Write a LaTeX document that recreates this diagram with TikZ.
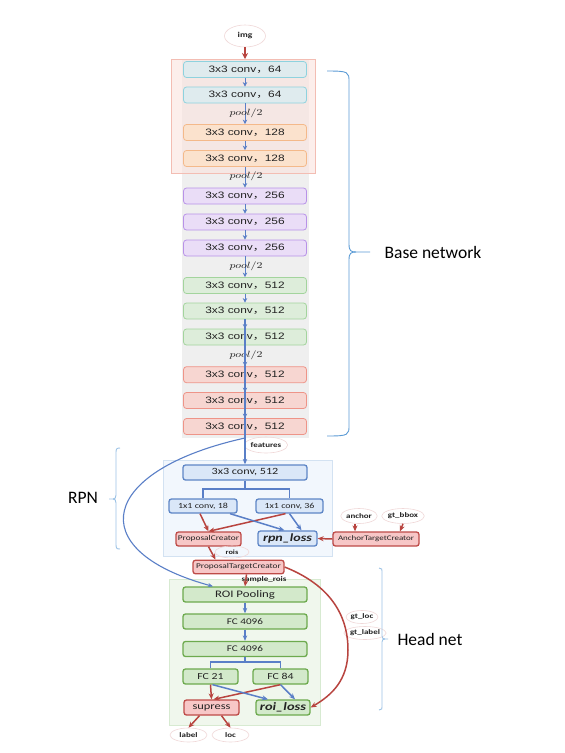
\documentclass[tikz,border=0pt]{standalone}
\usepackage{fontspec}
\usepackage{graphicx}
\setmainfont{Carlito}
\newfontfamily\vf[FakeStretch=1.28]{Liberation Sans}
\newfontfamily\cf[FakeStretch=1.28]{Carlito}
\newfontfamily\cjk[FakeStretch=1.28]{Noto Sans CJK SC}
\usetikzlibrary{shapes.geometric,arrows.meta,calc}
\definecolor{cyF}{HTML}{DFEBEE}\definecolor{cyD}{HTML}{8ED2DE}
\definecolor{orF}{HTML}{FBE2CD}\definecolor{orD}{HTML}{F4B98A}
\definecolor{puF}{HTML}{EADDF7}\definecolor{puD}{HTML}{B892E8}
\definecolor{gnF}{HTML}{DDEDDA}\definecolor{gnD}{HTML}{A3D49D}
\definecolor{rdF}{HTML}{F7D6D1}\definecolor{rdD}{HTML}{EE9488}
\definecolor{grayF}{HTML}{EFEFEF}
\definecolor{pinkF}{HTML}{FAE3DE}\definecolor{pinkD}{HTML}{F3BDB3}
\definecolor{rpnbgF}{HTML}{F2F7FD}\definecolor{rpnbgD}{HTML}{D3E2F2}
\definecolor{bluF}{HTML}{DAE7F8}\definecolor{bluD}{HTML}{5E86C6}
\definecolor{redF}{HTML}{F7C7C7}\definecolor{redD}{HTML}{BE4B48}
\definecolor{grnF}{HTML}{D3E9CB}\definecolor{grnD}{HTML}{6DAA4E}
\definecolor{headF}{HTML}{F0F7ED}\definecolor{headD}{HTML}{D7EAD1}
\definecolor{arrB}{HTML}{5A7FC7}\definecolor{arrR}{HTML}{B8443F}
\definecolor{ellD}{HTML}{F0D8D8}
\definecolor{braceB}{HTML}{5B9BD5}\definecolor{braceL}{HTML}{9DC3E6}
\definecolor{txt}{HTML}{222222}
\tikzset{
 vgg/.style={draw, rounded corners=3pt, minimum width=123pt, minimum height=16pt, inner sep=0pt, line width=0.8pt, text=txt, font=\vf\fontsize{9.3}{10}\selectfont},
 cybox/.style={vgg, fill=cyF, draw=cyD},
 orbox/.style={vgg, fill=orF, draw=orD},
 pubox/.style={vgg, fill=puF, draw=puD},
 gnbox/.style={vgg, fill=gnF, draw=gnD},
 rdbox/.style={vgg, fill=rdF, draw=rdD},
 pooltxt/.style={inner sep=0pt, text=txt, font=\fontsize{9}{10}\selectfont},
 bx/.style={rounded corners=2.5pt, inner sep=0pt, line width=1.3pt, text=txt},
 bluebox/.style={bx, draw=bluD, fill=bluF},
 redbox/.style={bx, draw=redD, fill=redF},
 grnbox/.style={bx, draw=grnD, fill=grnF},
 ell/.style={ellipse, draw=ellD, line width=0.6pt, inner sep=0pt, text=txt, font=\cf\bfseries\fontsize{7}{8}\selectfont},
 varr/.style={draw=arrB, line width=1pt, -{Stealth[length=4.5pt,width=4.5pt]}},
 barr/.style={draw=arrB, line width=1.2pt, -{Stealth[length=5.5pt,width=4.5pt]}},
 barrT/.style={draw=arrB, line width=1.5pt, -{Stealth[length=6pt,width=5pt]}},
 rarr/.style={draw=arrR, line width=1.5pt, -{Stealth[length=6pt,width=5pt]}},
 branch/.style={draw=arrB, line width=1.2pt},
 bigtxt/.style={inner sep=0pt, text=black, font=\fontsize{17.5}{20}\selectfont},
}
\begin{document}
\begin{tikzpicture}[x=1pt,y=-1pt]
\useasboundingbox (0,0) rectangle (565,753);
\fill[white] (0,0) rectangle (565,753);
% backgrounds
\fill[grayF] (181.7,59) rectangle (309,438);
\draw[draw=pinkD, fill=pinkF, fill opacity=0.6, line width=0.8pt] (171,59) rectangle (315,173);
\draw[draw=rpnbgD, fill=rpnbgF, line width=0.8pt] (163,460) rectangle (332,556);
\draw[draw=headD, fill=headF, line width=0.8pt] (169,579) rectangle (320,725);

% VGG
\node[ell, minimum width=41pt, minimum height=22pt, font=\cf\bfseries\fontsize{7.5}{8}\selectfont] (img) at (245,36) {img};
\coordinate (vtop) at (245,59);
\node[cybox] (c1) at (245,69.5) {3x3 conv{\cjk ，}64};
\node[cybox] (c2) at (245,95) {3x3 conv{\cjk ，}64};
\node[orbox] (c3) at (245,132.5) {3x3 conv{\cjk ，}128};
\node[orbox] (c4) at (245,158.5) {3x3 conv{\cjk ，}128};
\node[pubox] (c5) at (245,196) {3x3 conv{\cjk ，}256};
\node[pubox] (c6) at (245,222) {3x3 conv{\cjk ，}256};
\node[pubox] (c7) at (245,248) {3x3 conv{\cjk ，}256};
\node[gnbox] (c8) at (245,285.5) {3x3 conv{\cjk ，}512};
\node[gnbox] (c9) at (245,311) {3x3 conv{\cjk ，}512};
\node[gnbox] (c10) at (245,337) {3x3 conv{\cjk ，}512};
\node[rdbox] (c11) at (245,374.7) {3x3 conv{\cjk ，}512};
\node[rdbox] (c12) at (245,400.5) {3x3 conv{\cjk ，}512};
\node[rdbox] (c13) at (245,426.5) {3x3 conv{\cjk ，}512};
\draw[rarr, line width=1.6pt, -{Stealth[length=6pt,width=6pt]}] (img) -- (vtop);
\foreach \a/\b in {c1/c2,c2/c3,c3/c4,c4/c5,c5/c6,c6/c7,c7/c8,c8/c9,c9/c10,c10/c11,c11/c12,c12/c13}
  \draw[varr] (\a.south) -- (\b.north);
\node[pooltxt] (p1) at (246,113) {\scalebox{1.28}[1]{$pool/2$}};
\node[pooltxt] (p2) at (246,176.5) {\scalebox{1.28}[1]{$pool/2$}};
\node[pooltxt] (p3) at (246,266) {\scalebox{1.28}[1]{$pool/2$}};
\node[pooltxt] (p4) at (246,355) {\scalebox{1.28}[1]{$pool/2$}};
\coordinate (fsplit) at (245,438);
\node[ell, minimum width=40pt, minimum height=16pt] (feat) at (266,445) {features};

% RPN
\node[bluebox, minimum width=124pt, minimum height=15pt, font=\cf\fontsize{9.5}{10}\selectfont] (rconv) at (245,472.5) {3x3 conv, 512};
\draw[barr] (c9.south) -- (rconv.north);
\node[bluebox, minimum width=68pt, minimum height=14pt, font=\cf\fontsize{7.8}{9}\selectfont] (r18) at (203,506) {1x1 conv, 18};
\node[bluebox, minimum width=67pt, minimum height=14pt, font=\cf\fontsize{7.8}{9}\selectfont] (r36) at (289.5,506) {1x1 conv, 36};
\coordinate (rbr) at (245,489);
\draw[branch] (rconv.south) -- (rbr);
\draw[branch] (r18.north) |- (rbr) -| (r36.north);
\node[redbox, minimum width=65pt, minimum height=14pt, font=\cf\fontsize{7.3}{8}\selectfont] (pc) at (208.5,539) {ProposalCreator};
\node[bluebox, minimum width=59pt, minimum height=15pt, font=\cf\bfseries\itshape\fontsize{11}{12}\selectfont] (rpnloss) at (287.5,538.5) {rpn\_loss};
\node[redbox, minimum width=86pt, minimum height=14pt, font=\cf\fontsize{7}{8}\selectfont] (atc) at (376,539) {AnchorTargetCreator};
\node[ell, minimum width=34pt, minimum height=15pt] (anchor) at (359,516) {anchor};
\node[ell, minimum width=38pt, minimum height=15pt] (gtbbox) at (403,516) {gt\_bbox};
\node[ell, minimum width=34pt, minimum height=12pt, font=\cf\bfseries\fontsize{6.5}{7}\selectfont] (rois) at (232,552) {rois};
\node[redbox, minimum width=91pt, minimum height=13.5pt, font=\cf\fontsize{7.3}{8}\selectfont] (ptc) at (238.5,567) {ProposalTargetCreator};
\node[ell, draw=none, minimum width=44pt, minimum height=11pt] (srois) at (264,580) {sample\_rois};
\draw[rarr] ([xshift=-3pt]r18.south) -- (pc.north);
\draw[rarr] ([xshift=-4pt]r36.south) -- (pc.north);
\draw[barrT] ([xshift=27pt]r18.south) -- ([xshift=-3pt]rpnloss.north);
\draw[barrT] (r36.south) -- ([xshift=14pt]rpnloss.north);
\draw[rarr] (atc.west) -- (rpnloss.east);
\draw[rarr] ([xshift=-4pt]anchor.south) -- ([xshift=-21pt]atc.north);
\draw[rarr] (gtbbox.south) -- ([xshift=24pt]atc.north);
\draw[rarr] (pc.south) -- ([xshift=-23pt]ptc.north);

% Head
\node[grnbox, minimum width=124pt, minimum height=15pt, font=\cf\fontsize{10}{11}\selectfont] (roi) at (245,594.5) {ROI Pooling};
\node[grnbox, minimum width=124pt, minimum height=15pt, font=\cf\fontsize{8.7}{10}\selectfont] (fc1) at (245,621.5) {FC 4096};
\node[grnbox, minimum width=124pt, minimum height=15pt, font=\cf\fontsize{8.7}{10}\selectfont] (fc2) at (245,649) {FC 4096};
\node[grnbox, minimum width=55pt, minimum height=15pt, font=\cf\fontsize{9.2}{10}\selectfont] (fc21) at (210.5,676.5) {FC 21};
\node[grnbox, minimum width=55pt, minimum height=15pt, font=\cf\fontsize{9.2}{10}\selectfont] (fc84) at (280.5,676.5) {FC 84};
\node[redbox, minimum width=55pt, minimum height=15pt, font=\cf\fontsize{9.7}{10}\selectfont] (sup) at (211.5,707.5) {supress};
\node[grnbox, minimum width=54pt, minimum height=15pt, font=\cf\bfseries\itshape\fontsize{11.3}{12}\selectfont] (roiloss) at (283,707.5) {roi\_loss};
\node[ell, minimum width=37pt, minimum height=14pt] (lab) at (188.5,735) {label};
\node[ell, minimum width=37pt, minimum height=14pt] (loc) at (230.5,735) {loc};
\node[ell, minimum width=32pt, minimum height=13pt] (gtloc) at (362,617) {gt\_loc};
\node[ell, minimum width=36pt, minimum height=13pt] (gtlab) at (365,633) {gt\_label};
\coordinate (hbr) at (245,662);
\draw[rarr] ([xshift=8pt]ptc.south) -- (roi.north);
\draw[barr] (roi.south) -- (fc1.north);
\draw[barr] (fc1.south) -- (fc2.north);
\draw[branch] (fc2.south) -- (hbr);
\draw[branch] (fc21.north) |- (hbr) -| (fc84.north);
\draw[rarr] (fc21.south) -- (sup.north);
\draw[rarr] (fc84.south) -- ([xshift=2pt]sup.north);
\draw[barrT] ([xshift=2pt]fc21.south) -- ([xshift=-15pt]roiloss.north);
\draw[barrT] (fc84.south) -- ([xshift=12pt]roiloss.north);
\draw[rarr] ([xshift=-12pt]sup.south) -- (lab.north);
\draw[rarr] ([xshift=10pt]sup.south) -- (loc.north);

% curves
\draw[draw=arrB, line width=1.1pt, -{Stealth[length=5pt,width=4pt]}] (fsplit) .. controls (100,470) and (80,550) .. ([xshift=-32pt]roi.north);
\coordinate (rmax) at (348,650);
\draw[draw=arrR, line width=1.5pt] (ptc.east) .. controls (330,585) and (348,615) .. (rmax);
\draw[rarr] (rmax) .. controls (348,680) and (332,695) .. (roiloss.east);

% braces and labels
\draw[braceB, line width=0.9pt] (327,71) .. controls (349,71) and (349,72) .. (349,82) -- (349,244) .. controls (349,251) and (351,252) .. (356,252) -- (370,252);
\draw[braceB, line width=0.9pt] (327,436) .. controls (349,436) and (349,435) .. (349,425) -- (349,260) .. controls (349,253) and (351,252) .. (356,252);
\node[bigtxt] (basel) at (433,252) {Base network};
\draw[braceL, line width=0.9pt] (120,448) .. controls (116,448) and (116,449) .. (116,454) -- (116,495) .. controls (116,498) and (115,499) .. (113,499) -- (109,499);
\draw[braceL, line width=0.9pt] (120,549) .. controls (116,549) and (116,548) .. (116,543) -- (116,503) .. controls (116,500) and (115,499) .. (113,499);
\node[bigtxt] (rpnl) at (83,498) {RPN};
\draw[braceL, line width=0.9pt] (379,568) .. controls (382,568) and (382,569) .. (382,573) -- (382,636) .. controls (382,638) and (383,639) .. (385,639) -- (388,639);
\draw[braceL, line width=0.9pt] (379,710) .. controls (382,710) and (382,709) .. (382,705) -- (382,642) .. controls (382,640) and (383,639) .. (385,639);
\node[bigtxt] (headl) at (430,639) {Head net};
\end{tikzpicture}
\end{document}
